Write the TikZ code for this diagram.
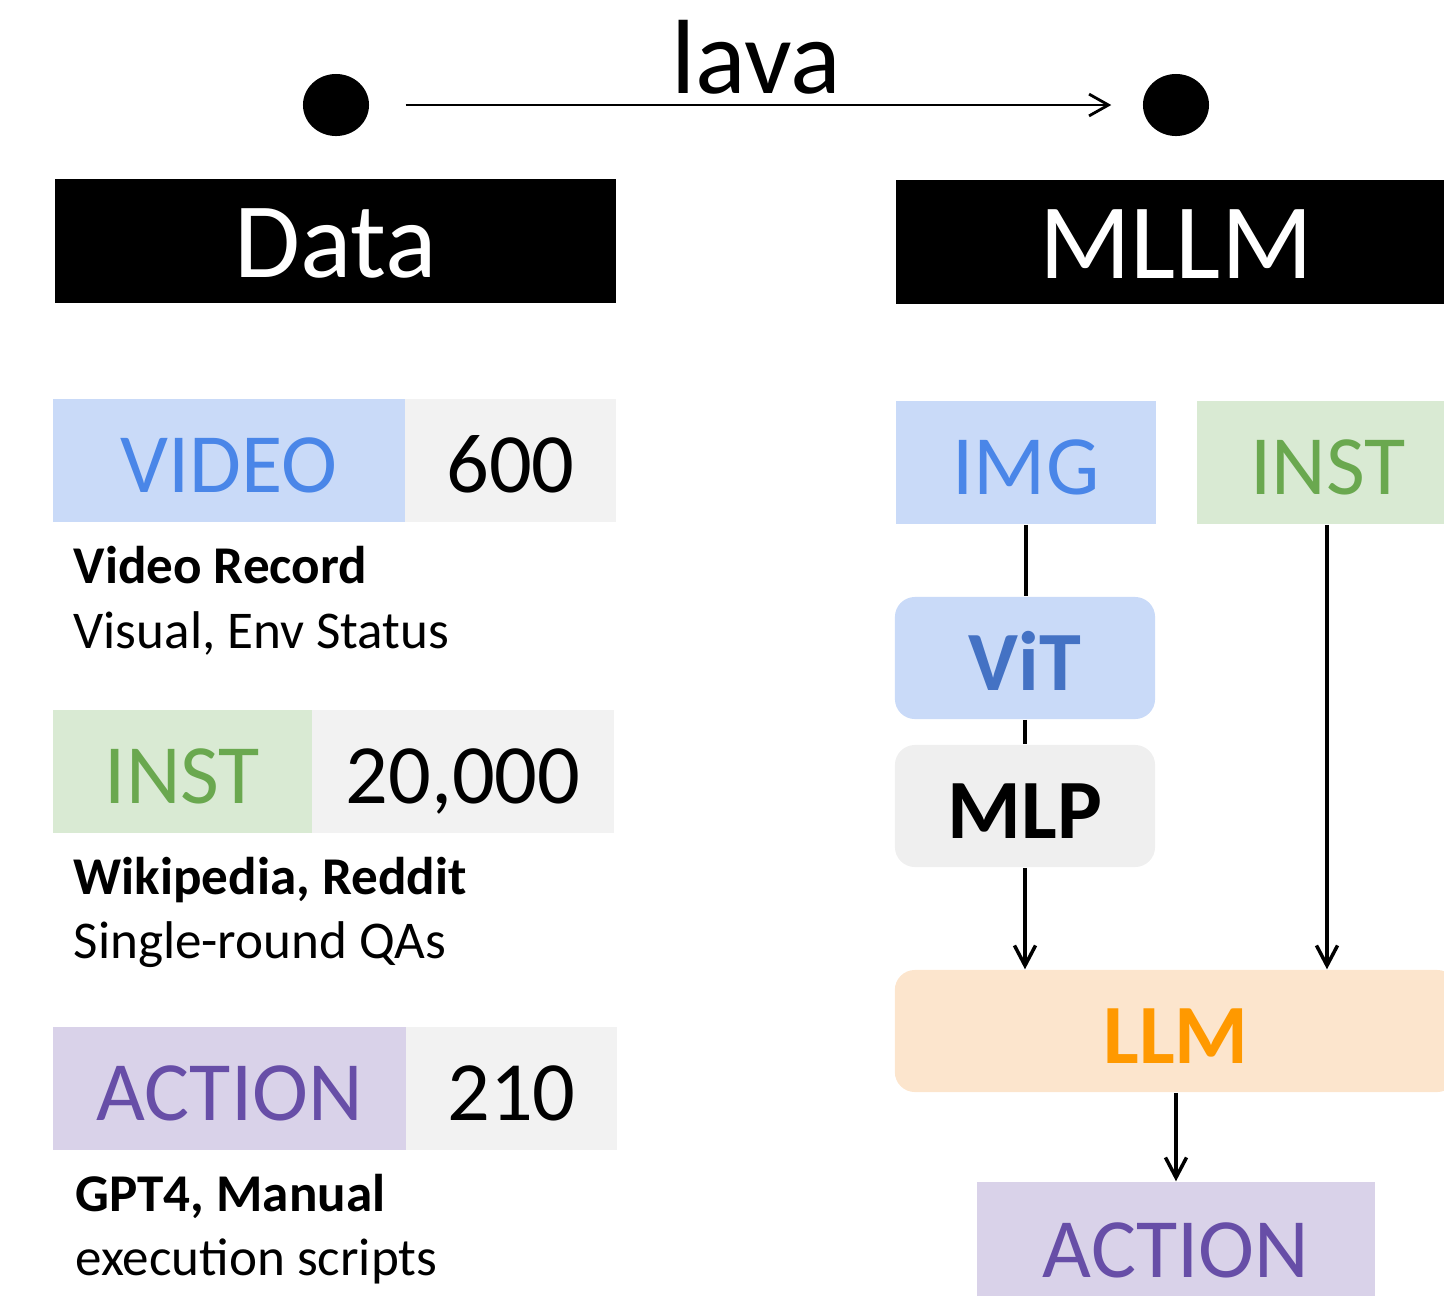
\documentclass[tikz,border=0pt]{standalone}
\usepackage{fontspec}
\setmainfont{Carlito}
\usetikzlibrary{arrows.meta,shapes.geometric}
\definecolor{bluefill}{HTML}{C9DAF8}
\definecolor{bluetext}{HTML}{4A86E8}
\definecolor{vittext}{HTML}{4472C4}
\definecolor{greenfill}{HTML}{D9EAD3}
\definecolor{greentext}{HTML}{6AA84F}
\definecolor{purplefill}{HTML}{D9D2E9}
\definecolor{purpletext}{HTML}{674EA7}
\definecolor{grayfill}{HTML}{F2F2F2}
\definecolor{mlpfill}{HTML}{EFEFEF}
\definecolor{llmfill}{HTML}{FCE5CD}
\definecolor{llmtext}{HTML}{FF9900}
\begin{document}
\begin{tikzpicture}[x=0.01cm,y=-0.01cm,
  bigbox/.style={fill=black,text=white,inner sep=0pt,minimum height=1.24cm,font=\fontsize{30.5}{36}\selectfont,text height=21pt,text depth=0pt},
  tagbox/.style={inner sep=0pt,minimum height=1.23cm,font=\fontsize{24}{28}\selectfont,text height=18.2pt,text depth=0pt},
  modbox/.style={tagbox,rounded corners=0.2cm,font=\fontsize{24}{28}\selectfont\bfseries},
  desc/.style={anchor=base west,inner sep=0pt,font=\fontsize{15.1}{18}\selectfont},
  conn/.style={line width=1pt},
  arr/.style={conn,-{Straight Barb[length=5.7pt,width=6pt,line width=1pt]}},
  dot/.style={ellipse,fill=black,minimum width=0.66cm,minimum height=0.62cm,inner sep=0pt}
]
\useasboundingbox (0,0) rectangle (1444,1296);
\clip (0,0) rectangle (1444,1296);

% top arrow
\node[dot] (dotL) at (336,105) {};
\node[dot] (dotR) at (1176,105) {};
\draw[line width=0.8pt,-{Straight Barb[length=5.5pt,width=6.2pt,line width=0.8pt]}] ([xshift=0.36cm]dotL.east) -- ([xshift=-0.31cm]dotR.west);
\node[anchor=base,inner sep=0pt,font=\fontsize{30}{34}\selectfont] (lava) at (756,93) {lava};

% headers
\node[bigbox,minimum width=5.61cm] (data) at (335.5,241) {Data};
\node[bigbox,minimum width=5.60cm] (mllm) at (1176,242) {MLLM};

% data rows
\node[tagbox,fill=bluefill,text=bluetext,minimum width=3.52cm] (video) at (229,460.5) {VIDEO};
\node[tagbox,fill=grayfill,minimum width=2.11cm] (n600) at (510.5,460.5) {600};
\node[desc,font=\fontsize{15.1}{18}\selectfont\bfseries] (vrec) at (73,583) {Video Record};
\node[desc] (vvis) at (73,648) {Visual, Env Status};

\node[tagbox,fill=greenfill,text=greentext,minimum width=2.59cm] (inst) at (182.5,771.5) {INST};
\node[tagbox,fill=grayfill,minimum width=3.02cm] (n20000) at (463,771.5) {20,000};
\node[desc,font=\fontsize{15.1}{18}\selectfont\bfseries] (wiki) at (73,894) {Wikipedia, Reddit};
\node[desc] (sqa) at (73,958) {Single-round QAs};

\node[tagbox,fill=purplefill,text=purpletext,minimum width=3.53cm] (action) at (229.5,1088.5) {ACTION};
\node[tagbox,fill=grayfill,minimum width=2.11cm] (n210) at (511.5,1088.5) {210};
\node[desc,font=\fontsize{15.1}{18}\selectfont\bfseries] (gpt) at (75,1211) {GPT4, Manual};
\node[desc] (exe) at (75,1275) {execution scripts};

% model
\node[tagbox,fill=bluefill,text=bluetext,minimum width=2.60cm] (img) at (1026,462.5) {IMG};
\node[tagbox,fill=greenfill,text=greentext,minimum width=2.62cm] (inst2) at (1328,462.5) {INST};
\node[modbox,fill=bluefill,text=vittext,minimum width=2.60cm,minimum height=1.22cm] (vit) at (1025,658) {ViT};
\node[modbox,fill=mlpfill,text=black,minimum width=2.60cm,minimum height=1.22cm] (mlp) at (1025,806) {MLP};
\node[modbox,fill=llmfill,text=llmtext,minimum width=5.62cm,minimum height=1.22cm] (llm) at (1176,1031) {LLM};
\node[tagbox,fill=purplefill,text=purpletext,minimum width=3.98cm,minimum height=1.26cm] (action2) at (1176,1245) {ACTION};

\draw[conn] (img.south) -- (img.south |- vit.north);
\draw[conn] (vit.south) -- (mlp.north);
\draw[arr] (mlp.south) -- (mlp.south |- llm.north);
\draw[arr] ([xshift=-0.01cm]inst2.south) -- ([xshift=-0.01cm]inst2.south |- llm.north);
\draw[arr] (llm.south) -- (action2.north);
\end{tikzpicture}
\end{document}
